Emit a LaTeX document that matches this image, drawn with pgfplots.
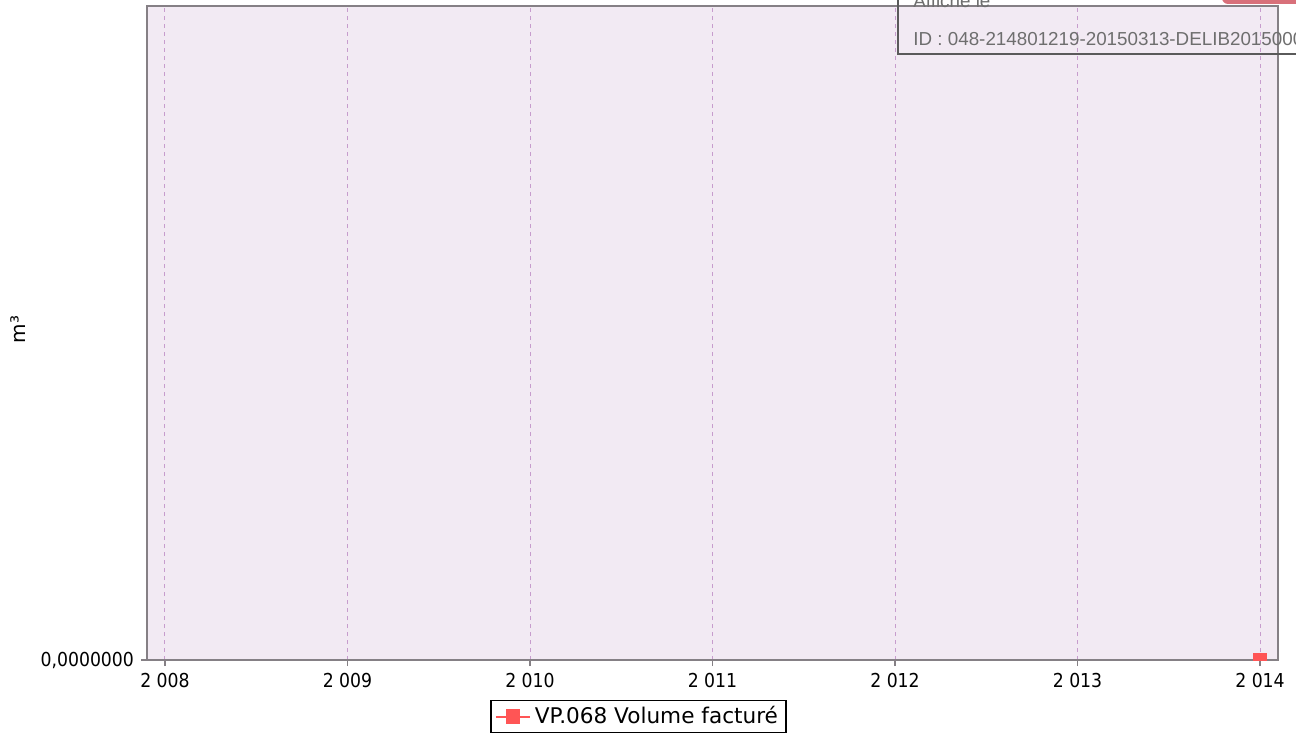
\documentclass[border=0pt]{standalone}
\usepackage{pgfplots}
\pgfplotsset{compat=1.18}
\usepackage{fontspec}
\setmainfont{DejaVu Sans}
\newfontfamily\condfont{DejaVu Sans Condensed}
\newfontfamily\arial{Liberation Sans}
\definecolor{plotbg}{HTML}{F2EAF3}
\definecolor{gridc}{HTML}{C79DCD}
\definecolor{axisc}{HTML}{858085}
\definecolor{serie}{HTML}{FF5555}
\definecolor{stamp}{HTML}{5A5A5A}
\definecolor{stamptext}{HTML}{6E6E6E}
\definecolor{badge}{HTML}{D8707A}
\newcommand\zerolab{0,0000000}

\begin{document}
\begin{tikzpicture}
\begin{axis}[
    name=ax,
    scale only axis,
    width=565.5pt, height=327pt,
    xmin=2007.9014, xmax=2014.0986,
    ymin=0, ymax=1,
    xtick={2008,2009,2010,2011,2012,2013,2014},
    xticklabels={2 008,2 009,2 010,2 011,2 012,2 013,2 014},
    ytick={0},
    yticklabels={\zerolab},
    xtick pos=bottom, ytick pos=left,
    axis background/.style={fill=plotbg},
    axis line style={axisc, line width=0.7pt},
    tick align=outside,
    major tick length=3pt,
    tick style={axisc, line width=0.6pt},
    xmajorgrids,
    grid style={gridc, dash pattern=on 2pt off 2pt, line width=0.5pt},
    ticklabel style={font=\condfont\fontsize{9.6}{11}\selectfont, text=black},
    /pgf/number format/assume math mode=true,
    ylabel={m³},
    ylabel style={at={(axis description cs:-0.114,0.505)}, anchor=center,
        font=\fontsize{10}{12}\selectfont},
    legend style={at={(0.4346,0)}, anchor=north, yshift=-20pt,
        draw=black, line width=0.6pt, fill=white,
        font=\fontsize{10.8}{13}\selectfont,
        inner xsep=2pt, inner ysep=1pt},
    legend cell align=left,
    clip marker paths=true,
]
\addplot[serie, line width=0.8pt, mark=square*, mark size=3.25pt,
    mark options={fill=serie, draw=none}] coordinates {(2014,0)};
\addlegendentry{VP.068 Volume facturé}
\end{axis}

\begin{scope}
\clip ([shift={(-73.5pt,-39.5pt)}]ax.south west) rectangle ([shift={(9pt,3pt)}]ax.north east);
\fill[white] ([shift={(520pt,1pt)}]ax.north west) rectangle ([shift={(30pt,20pt)}]ax.north east);
\fill[badge, rounded corners=3pt] ([shift={(537.5pt,1pt)}]ax.north west) rectangle ([shift={(30pt,20pt)}]ax.north east);
\node[anchor=base west, inner sep=0pt, text=white!85!badge, font=\arial\fontsize{8}{9}\selectfont]
    at ([shift={(541pt,4pt)}]ax.north west) {Levrault};
\draw[stamp, line width=1pt] ([shift={(375.5pt,-24pt)}]ax.north west) rectangle ([shift={(40pt,20pt)}]ax.north east);
\node[anchor=base west, inner sep=0pt, text=stamptext, font=\arial\fontsize{9.4}{11}\selectfont]
    at ([shift={(383pt,-1pt)}]ax.north west) {Affiché le};
\node[anchor=base west, inner sep=0pt, text=stamptext, font=\arial\fontsize{9.4}{11}\selectfont]
    at ([shift={(383pt,-20pt)}]ax.north west) {ID : 048-214801219-20150313-DELIB20150000};
\end{scope}

\pgfresetboundingbox
\useasboundingbox ([shift={(-73.5pt,-39.5pt)}]ax.south west) rectangle ([shift={(9pt,3pt)}]ax.north east);
\end{tikzpicture}
\end{document}
